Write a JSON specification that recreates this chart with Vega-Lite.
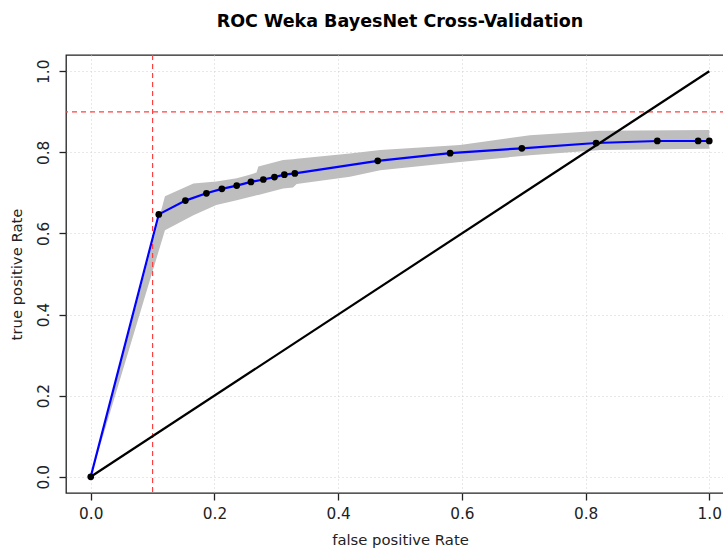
{
  "$schema": "https://vega.github.io/schema/vega-lite/v6.json",
  "autosize": {"type": "none"},
  "padding": {"left": 66, "top": 55, "right": 0, "bottom": 57},
  "width": 668,
  "height": 438,
  "title": {"text": "ROC Weka BayesNet Cross-Validation", "font": "DejaVu Sans", "fontSize": 17.5, "fontWeight": "bold", "color": "black", "offset": 24, "anchor": "middle"},
  "config": {
    "view": {"stroke": "#222222", "strokeWidth": 1.3},
    "axis": {"labelFont": "DejaVu Sans", "labelFontSize": 15.3, "labelColor": "#222222", "titleFont": "DejaVu Sans", "titleFontSize": 14.8, "titleFontWeight": "normal", "titleColor": "#222222", "domain": false, "tickColor": "#222222", "tickSize": 7, "tickWidth": 1.3, "gridColor": "#d0d0d0", "gridDash": [1, 3], "gridWidth": 1}
  },
  "datasets": {
    "roc": [
      {"fpr": 0.0, "tpr": 0.0},
      {"fpr": 0.110, "tpr": 0.647},
      {"fpr": 0.153, "tpr": 0.681},
      {"fpr": 0.187, "tpr": 0.699},
      {"fpr": 0.212, "tpr": 0.710},
      {"fpr": 0.236, "tpr": 0.718},
      {"fpr": 0.259, "tpr": 0.727},
      {"fpr": 0.279, "tpr": 0.733},
      {"fpr": 0.297, "tpr": 0.739},
      {"fpr": 0.313, "tpr": 0.745},
      {"fpr": 0.330, "tpr": 0.748},
      {"fpr": 0.464, "tpr": 0.779},
      {"fpr": 0.581, "tpr": 0.798},
      {"fpr": 0.697, "tpr": 0.810},
      {"fpr": 0.817, "tpr": 0.823},
      {"fpr": 0.916, "tpr": 0.828},
      {"fpr": 0.982, "tpr": 0.828},
      {"fpr": 1.0, "tpr": 0.828}
    ],
    "band": [
      {"fpr": 0.0, "lo": 0.0, "hi": 0.0},
      {"fpr": 0.12, "lo": 0.608, "hi": 0.692},
      {"fpr": 0.166, "lo": 0.645, "hi": 0.723},
      {"fpr": 0.203, "lo": 0.670, "hi": 0.728},
      {"fpr": 0.236, "lo": 0.682, "hi": 0.736},
      {"fpr": 0.257, "lo": 0.690, "hi": 0.745},
      {"fpr": 0.268, "lo": 0.694, "hi": 0.750},
      {"fpr": 0.271, "lo": 0.695, "hi": 0.765},
      {"fpr": 0.311, "lo": 0.711, "hi": 0.781},
      {"fpr": 0.327, "lo": 0.713, "hi": 0.783},
      {"fpr": 0.333, "lo": 0.722, "hi": 0.784},
      {"fpr": 0.419, "lo": 0.740, "hi": 0.797},
      {"fpr": 0.468, "lo": 0.756, "hi": 0.806},
      {"fpr": 0.597, "lo": 0.776, "hi": 0.818},
      {"fpr": 0.710, "lo": 0.793, "hi": 0.842},
      {"fpr": 0.824, "lo": 0.806, "hi": 0.853},
      {"fpr": 1.0, "lo": 0.809, "hi": 0.855}
    ],
    "diag": [
      {"fpr": 0.0, "tpr": 0.0},
      {"fpr": 1.0, "tpr": 1.0}
    ],
    "vref": [{"fpr": 0.1}],
    "href": [{"tpr": 0.9}]
  },
  "layer": [
    {
      "data": {"name": "band"},
      "mark": {"type": "area", "color": "#bebebe", "opacity": 1},
      "encoding": {
        "x": {"field": "fpr", "type": "quantitative", "scale": {"domain": [-0.04, 1.04], "nice": false, "zero": false},
          "axis": {"values": [0, 0.2, 0.4, 0.6, 0.8, 1.0], "format": ".1f", "title": "false positive Rate", "labelPadding": 6, "titlePadding": 11, "grid": true}},
        "y": {"field": "hi", "type": "quantitative", "scale": {"domain": [-0.04, 1.04], "nice": false, "zero": false},
          "axis": {"values": [0, 0.2, 0.4, 0.6, 0.8, 1.0], "format": ".1f", "title": "true positive Rate", "labelAngle": 270, "labelAlign": "center", "labelBaseline": "bottom", "labelPadding": 8, "titlePadding": 12, "grid": true}},
        "y2": {"field": "lo"}
      }
    },
    {
      "data": {"name": "vref"},
      "mark": {"type": "rule", "color": "#ff4040", "strokeDash": [5, 4], "strokeWidth": 1.2},
      "encoding": {"x": {"field": "fpr", "type": "quantitative"}}
    },
    {
      "data": {"name": "href"},
      "mark": {"type": "rule", "color": "#ff4040", "strokeDash": [5, 4], "strokeWidth": 1.2},
      "encoding": {"y": {"field": "tpr", "type": "quantitative"}}
    },
    {
      "data": {"name": "roc"},
      "mark": {"type": "line", "color": "#0000ff", "strokeWidth": 2.2},
      "encoding": {
        "x": {"field": "fpr", "type": "quantitative"},
        "y": {"field": "tpr", "type": "quantitative"}
      }
    },
    {
      "data": {"name": "diag"},
      "mark": {"type": "line", "color": "black", "strokeWidth": 2.2},
      "encoding": {
        "x": {"field": "fpr", "type": "quantitative"},
        "y": {"field": "tpr", "type": "quantitative"}
      }
    },
    {
      "data": {"name": "roc"},
      "mark": {"type": "point", "filled": true, "color": "black", "opacity": 1, "size": 45},
      "encoding": {
        "x": {"field": "fpr", "type": "quantitative"},
        "y": {"field": "tpr", "type": "quantitative"}
      }
    }
  ]
}
